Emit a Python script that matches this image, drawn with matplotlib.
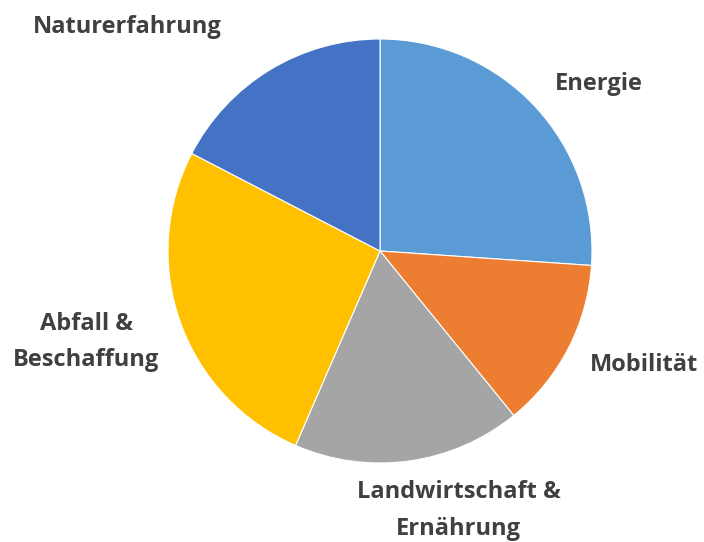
import matplotlib
matplotlib.use("Agg")
from matplotlib import pyplot as plt

categories = ["Energie", "Mobilität", "Landwirtschaft &\nErnährung",
              "Abfall &\nBeschaffung", "Naturerfahrung"]
values = [6, 3, 4, 6, 4]
colors = ["#5B9BD5", "#ED7D31", "#A5A5A5", "#FFC000", "#4472C4"]

# label positions in radius units (relative to pie centre)
label_pos = [(1.03, 0.79), (1.245, -0.54), (0.37, -1.225), (-1.385, -0.43), (-1.19, 1.055)]

R = 212.0
cx, cy = 380.0, 251.0
W, H = 704, 542

fig = plt.figure(figsize=(W / 100, H / 100), dpi=100)
ax = fig.add_axes([0, 0, 1, 1])
ax.pie(values, colors=colors, startangle=90, counterclock=False,
       wedgeprops=dict(edgecolor="white", linewidth=0.8))
ax.set_aspect("auto")
ax.set_xlim(-cx / R, (W - cx) / R)
ax.set_ylim(-(H - cy) / R, cy / R)
ax.axis("off")

for lab, (x, y) in zip(categories, label_pos):
    ax.text(x, y, lab, ha="center", va="center", fontsize=17, fontweight="bold",
            family="Open Sans", color="#404040", linespacing=1.7)

fig.savefig("out.png", dpi=100)
